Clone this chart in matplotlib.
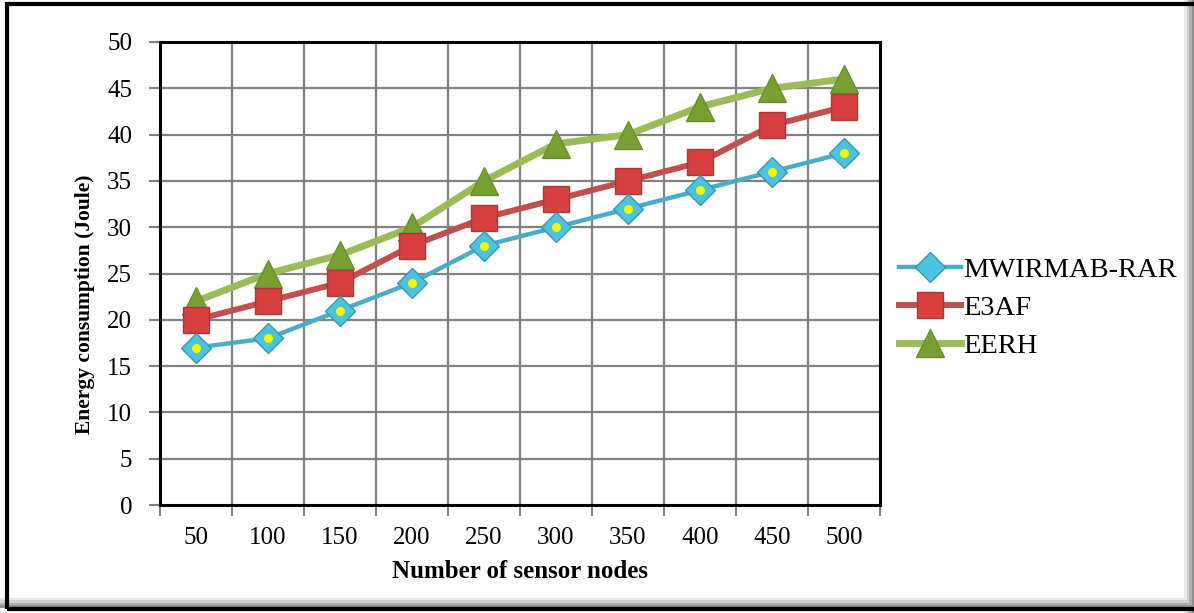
import numpy as np
import matplotlib
matplotlib.use('Agg')
import matplotlib.pyplot as plt
from matplotlib.patches import Rectangle

# data
nodes = ['50', '100', '150', '200', '250', '300', '350', '400', '450', '500']
mwirmab = [17, 18, 21, 24, 28, 30, 32, 34, 36, 38]
e3af = [20, 22, 24, 28, 31, 33, 35, 37, 41, 43]
eerh = [22, 25, 27, 30, 35, 39, 40, 43, 45, 46]

plt.rcParams['font.family'] = ['Liberation Serif', 'DejaVu Serif']

W, H = 1194, 613
fig = plt.figure(figsize=(W / 100, H / 100), dpi=100)
ax = fig.add_axes([160 / W, 108 / H, 720 / W, 463 / H])

x = np.arange(len(nodes))

ax.plot(x, eerh, color='#9BBB59', lw=5, marker='^', ms=20,
        mfc='#77A033', mec='#6A8F2C', mew=1, label='EERH', zorder=3)
ax.plot(x, e3af, color='#C0504D', lw=4.3, marker='s', ms=19,
        mfc='#D94040', mec='#A83A37', mew=1, label='E3AF', zorder=4)
ax.plot(x, mwirmab, color='#4BACC6', lw=3.2, marker='D', ms=15,
        mfc='#4CC3DD', mec='#3A95AE', mew=1, label='MWIRMAB-RAR', zorder=5)
ax.scatter(x, mwirmab, s=30, color='#F5F500', zorder=6)

ax.set_xlim(-0.5, len(nodes) - 0.5)
ax.set_ylim(0, 50)
ax.set_yticks(np.arange(0, 51, 5))
ax.set_xticks(x)
ax.set_xticklabels(nodes)
ax.set_xticks(np.arange(-0.5, len(nodes), 1), minor=True)

# excel style grid: vertical lines between categories
ax.grid(False)
for xv in np.arange(0.5, len(nodes) - 0.5, 1):
    ax.axvline(xv, color='#808080', lw=1.6, zorder=1)
for yv in np.arange(5, 50, 5):
    ax.axhline(yv, color='#808080', lw=1.6, zorder=1)

for s in ax.spines.values():
    s.set_linewidth(2.2)
    s.set_color('black')

ax.tick_params(axis='x', which='major', length=0, pad=16, labelsize=18)
ax.tick_params(axis='x', which='minor', length=8, width=1.5, color='#808080')
ax.tick_params(axis='y', length=8, width=1.5, color='#808080', labelsize=18, pad=12)

ax.set_xlabel('Number of sensor nodes', fontsize=18, fontweight='bold', labelpad=8)
ax.set_ylabel('Energy consumption (Joule)', fontsize=15.5, fontweight='bold')
ax.yaxis.set_label_coords(-0.09, 0.434)

handles, labels = ax.get_legend_handles_labels()
order = [2, 1, 0]
ax.legend([handles[i] for i in order], [labels[i] for i in order],
          loc='center left', bbox_to_anchor=(1.01, 0.425), frameon=False,
          borderaxespad=0, fontsize=20.5, handlelength=2.2,
          handletextpad=0.05, labelspacing=0.42)

# outer frame with a soft shadow on the right and bottom
for i, g in enumerate(['#e8e8e8', '#d0d0d0', '#b0b0b0', '#909090']):
    fig.patches.append(Rectangle(((1184 + 2.5 * i) / W, 0), 2.5 / W, 1,
                                 transform=fig.transFigure, color=g, lw=0))
    fig.patches.append(Rectangle((0, (13 - 2.5 * i) / H), 1, 2.5 / H,
                                 transform=fig.transFigure, color=g, lw=0))
fig.patches.append(Rectangle((6.5 / W, 4 / H), 1200 / W, 605 / H,
                             transform=fig.transFigure, fill=False,
                             edgecolor='black', lw=3))

fig.savefig('out.png', dpi=100)
